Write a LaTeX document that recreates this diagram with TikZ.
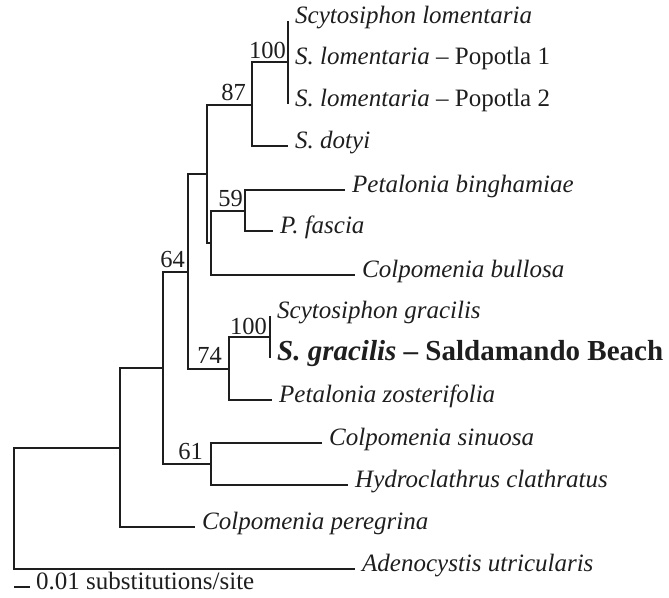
\documentclass[tikz,border=0pt]{standalone}
\usepackage{fontspec}
\setmainfont{Liberation Serif}
\definecolor{ink}{HTML}{1E1E1E}
\begin{document}
\begin{tikzpicture}[x=1pt,y=-1pt,
  br/.style={line width=2.1pt, draw=ink},
  tax/.style={anchor=mid west, inner xsep=7pt, inner ysep=0pt, text=ink,
    font=\fontsize{25}{29}\selectfont\itshape},
  taxb/.style={tax, font=\fontsize{29}{33}\selectfont\bfseries},
  bs/.style={anchor=south east, inner sep=0pt, text=ink,
    font=\fontsize{24.5}{28}\selectfont}]
\useasboundingbox (0,0) rectangle (669,597);
% leaves
\node[tax] (sl)  at (288,21)  {Scytosiphon lomentaria};
\node[tax] (p1)  at (288,62)  {S. lomentaria\upshape{} – Popotla 1};
\node[tax] (p2)  at (288,104) {S. lomentaria\upshape{} – Popotla 2};
\node[tax] (dot) at (288,146) {S. dotyi};
\node[tax] (bin) at (345,190) {Petalonia binghamiae};
\node[tax] (fas) at (273,231) {P. fascia};
\node[tax] (bul) at (355,275) {Colpomenia bullosa};
\node[tax] (sg)  at (270,316) {Scytosiphon gracilis};
\node[taxb] (sgb) at (270,358) {\itshape S. gracilis\upshape{} – Saldamando Beach};
\node[tax] (zos) at (272,400) {Petalonia zosterifolia};
\node[tax] (sin) at (322,443) {Colpomenia sinuosa};
\node[tax] (hyd) at (348,485) {Hydroclathrus clathratus};
\node[tax] (per) at (195,527) {Colpomenia peregrina};
\node[tax] (ade) at (355,569) {Adenocystis utricularis};
% internal nodes
\coordinate (n100) at (288,62);
\coordinate (n87) at (252,105);
\coordinate (nC) at (207,174);
\coordinate (nD) at (211,243);
\coordinate (n59) at (245,211);
\coordinate (n64) at (188,272);
\coordinate (n100b) at (270,337);
\coordinate (n74) at (229,369);
\coordinate (nB) at (163,368);
\coordinate (n61) at (211,464);
\coordinate (nA) at (120,448);
\coordinate (root) at (14,508);
% branches
\draw[br] (sl.mid west) -- (p2.mid west);
\draw[br] (n100) -| (n87) |- (dot.mid west);
\draw[br] (bin.mid west) -| (n59) |- (fas.mid west);
\draw[br] (n59) -| (nD) |- (bul.mid west);
\draw[br] (n87) -| (nC) |- (nD);
\draw[br] (sg.mid west) -- (sgb.mid west);
\draw[br] (n100b) -| (n74) |- (zos.mid west);
\draw[br] (nC) -| (n64) |- (n74);
\draw[br] (sin.mid west) -| (n61) |- (hyd.mid west);
\draw[br] (n64) -| (nB) |- (n61);
\draw[br] (nB) -| (nA) |- (per.mid west);
\draw[br] (nA) -| (root) |- (ade.mid west);
% support values
\node[bs] (b100) at (286,59) {100};
\node[bs] (b87) at (246,101) {87};
\node[bs] (b59) at (243,207) {59};
\node[bs] (b64) at (185,268) {64};
\node[bs] (b74) at (222,364) {74};
\node[bs] (b100b) at (267,335) {100};
\node[bs] (b61) at (203,460) {61};
% scale bar
\coordinate (sbA) at (14,587);
\coordinate (sbB) at (30,587);
\draw[br] (sbA) -- (sbB);
\node[anchor=mid west, inner sep=0pt, text=ink, font=\fontsize{25}{29}\selectfont] (sbt) at (36,587) {0.01 substitutions/site};
\end{tikzpicture}
\end{document}
